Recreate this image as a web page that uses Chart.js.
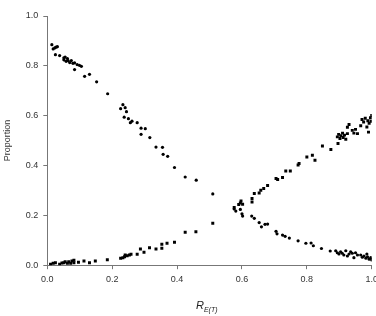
<!DOCTYPE html>
<html>
<head>
<meta charset="utf-8">
<script src="https://cdn.jsdelivr.net/npm/chart.js@4.4.0/dist/chart.umd.min.js"></script>
<style>
  html, body { margin: 0; padding: 0; background: #fff; overflow: hidden; }
  #wrap { position: relative; width: 383px; height: 316px; }
  #xtitle { position: absolute; left: 196px; top: 299px; font-family: "Liberation Sans", Arial, sans-serif;
            font-size: 11px; font-style: italic; color: #222; }
  #xtitle sub { font-size: 7px; }
</style>
</head>
<body>
<div id="wrap">
  <canvas id="chart" width="383" height="316"></canvas>
  <div id="xtitle">R<sub>E(T)</sub></div>
</div>
<script>
// circles: falling branch
var circleX = [0.014, 0.018, 0.023, 0.027, 0.031, 0.025, 0.038, 0.051, 0.055, 0.062, 0.051, 0.058, 0.064, 0.069, 0.074,
  0.079, 0.084, 0.092, 0.099, 0.105, 0.084, 0.115, 0.130, 0.152, 0.186, 0.233, 0.226, 0.240, 0.244, 0.237,
  0.250, 0.261, 0.256, 0.277, 0.289, 0.302, 0.289, 0.316, 0.335, 0.355, 0.357, 0.371, 0.392, 0.425, 0.459,
  0.510, 0.576, 0.581, 0.595, 0.600, 0.602, 0.630, 0.638, 0.653, 0.660, 0.671, 0.679, 0.705, 0.708, 0.725,
  0.733, 0.746, 0.773, 0.797, 0.813, 0.820, 0.845, 0.872, 0.889, 0.894, 0.899, 0.904, 0.909, 0.914, 0.920,
  0.925, 0.930, 0.935, 0.940, 0.945, 0.950, 0.956, 0.966, 0.971, 0.976, 0.982, 0.987, 0.992, 0.997, 1.000, 0.985];
var circleY = [0.885, 0.868, 0.872, 0.875, 0.877, 0.845, 0.841, 0.832, 0.835, 0.829, 0.824, 0.818, 0.821, 0.813, 0.821,
  0.810, 0.812, 0.805, 0.802, 0.798, 0.785, 0.758, 0.766, 0.736, 0.688, 0.644, 0.628, 0.632, 0.616, 0.594,
  0.588, 0.578, 0.572, 0.572, 0.550, 0.548, 0.525, 0.512, 0.474, 0.473, 0.445, 0.437, 0.392, 0.354, 0.341,
  0.286, 0.226, 0.217, 0.224, 0.206, 0.197, 0.197, 0.188, 0.171, 0.154, 0.164, 0.165, 0.136, 0.126, 0.121,
  0.116, 0.109, 0.098, 0.088, 0.089, 0.078, 0.067, 0.057, 0.058, 0.050, 0.045, 0.054, 0.048, 0.041, 0.058,
  0.037, 0.045, 0.054, 0.048, 0.030, 0.050, 0.041, 0.041, 0.032, 0.037, 0.028, 0.034, 0.024, 0.030, 0.021, 0.045];

// squares: rising branch
var squareX = [0.010, 0.018, 0.025, 0.038, 0.045, 0.051, 0.055, 0.062, 0.066, 0.072, 0.076, 0.082, 0.082, 0.096, 0.113,
  0.130, 0.148, 0.185, 0.226, 0.233, 0.238, 0.240, 0.246, 0.253, 0.258, 0.277, 0.287, 0.298, 0.315, 0.335,
  0.353, 0.353, 0.369, 0.392, 0.425, 0.458, 0.510, 0.576, 0.590, 0.595, 0.597, 0.602, 0.631, 0.631, 0.638,
  0.653, 0.658, 0.667, 0.679, 0.705, 0.710, 0.725, 0.735, 0.749, 0.773, 0.776, 0.800, 0.817, 0.825, 0.848,
  0.874, 0.896, 0.894, 0.898, 0.902, 0.905, 0.910, 0.912, 0.916, 0.920, 0.925, 0.925, 0.930, 0.940, 0.945,
  0.950, 0.956, 0.966, 0.970, 0.975, 0.980, 0.985, 0.988, 0.992, 0.996, 1.000, 0.998, 0.990];
var squareY = [0.004, 0.008, 0.010, 0.004, 0.009, 0.010, 0.014, 0.008, 0.014, 0.008, 0.017, 0.010, 0.020, 0.012, 0.017,
  0.010, 0.017, 0.022, 0.028, 0.030, 0.034, 0.041, 0.038, 0.041, 0.044, 0.044, 0.065, 0.052, 0.070, 0.065,
  0.068, 0.084, 0.088, 0.092, 0.132, 0.134, 0.168, 0.232, 0.244, 0.250, 0.258, 0.245, 0.268, 0.254, 0.288,
  0.290, 0.301, 0.308, 0.320, 0.348, 0.344, 0.352, 0.378, 0.378, 0.402, 0.408, 0.434, 0.441, 0.421, 0.478,
  0.464, 0.488, 0.515, 0.525, 0.508, 0.520, 0.530, 0.512, 0.522, 0.505, 0.528, 0.554, 0.565, 0.541, 0.530,
  0.545, 0.528, 0.560, 0.585, 0.575, 0.590, 0.555, 0.580, 0.570, 0.592, 0.601, 0.578, 0.534];

var xTicks = [0, 0.2, 0.4, 0.6, 0.8, 1.0];
var yTicks = [0, 0.2, 0.4, 0.6, 0.8, 1.0];

function pts(xs, ys) {
  var out = [];
  for (var i = 0; i < xs.length; i++) out.push({ x: xs[i], y: ys[i] });
  return out;
}

var font = { family: '"Liberation Sans", Arial, sans-serif', size: 9 };
var axisColor = '#777';

var chart = new Chart(document.getElementById('chart').getContext('2d'), {
  type: 'scatter',
  data: {
    datasets: [
      { data: pts(circleX, circleY), pointStyle: 'circle', pointRadius: 1.6, backgroundColor: '#000', borderWidth: 0 },
      { data: pts(squareX, squareY), pointStyle: 'rect', pointRadius: 2.1, backgroundColor: '#000', borderWidth: 0 }
    ]
  },
  options: {
    responsive: false,
    animation: false,
    layout: { padding: { top: 16, left: 2, right: 0, bottom: 26 } },
    plugins: { legend: { display: false }, tooltip: { enabled: false } },
    scales: {
      x: {
        type: 'linear', min: 0, max: 1,
        afterBuildTicks: function (s) { s.ticks = xTicks.map(function (v) { return { value: v }; }); },
        ticks: { font: font, color: '#333', padding: 5, maxRotation: 0,
                 callback: function (v) { return Number(v).toFixed(1); } },
        grid: { drawOnChartArea: false, drawTicks: true, tickLength: 4, color: axisColor },
        border: { color: axisColor }
      },
      y: {
        type: 'linear', min: 0, max: 1,
        afterBuildTicks: function (s) { s.ticks = yTicks.map(function (v) { return { value: v }; }); },
        ticks: { font: font, color: '#333', padding: 5,
                 callback: function (v) { return Number(v).toFixed(1); } },
        grid: { drawOnChartArea: false, drawTicks: true, tickLength: 4, color: axisColor },
        border: { color: axisColor },
        title: { display: true, text: 'Proportion', font: font, color: '#333', padding: { top: 0, bottom: 8 } }
      }
    }
  }
});
</script>
</body>
</html>
